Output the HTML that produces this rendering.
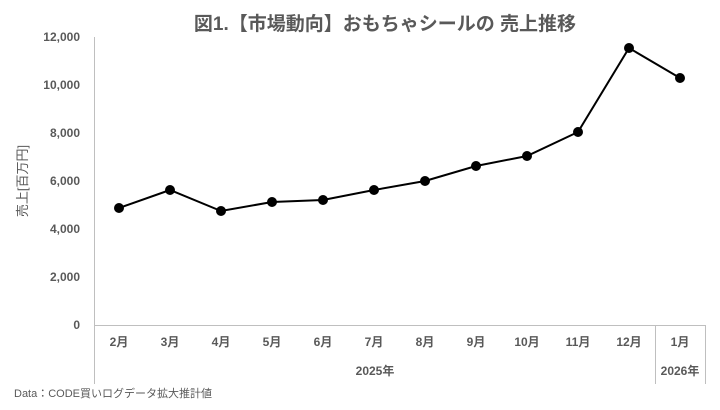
<!DOCTYPE html>
<html><head><meta charset="utf-8"><style>
body{margin:0;background:#fff;}
svg text{font-family:"Liberation Sans","Noto Sans CJK JP",sans-serif;}
</style></head><body>
<svg width="720" height="405" viewBox="0 0 720 405" xmlns="http://www.w3.org/2000/svg">
<rect width="720" height="405" fill="#fff"/>
<text x="385" y="30" text-anchor="middle" font-size="19" font-weight="bold" fill="#595959">図1.【市場動向】おもちゃシールの 売上推移</text>
<g font-size="12" font-weight="bold" fill="#595959" text-anchor="end">
<text x="80" y="41">12,000</text><text x="80" y="89">10,000</text><text x="80" y="137">8,000</text>
<text x="80" y="185">6,000</text><text x="80" y="233">4,000</text><text x="80" y="281">2,000</text><text x="80" y="329">0</text>
</g>
<text transform="translate(27,181) rotate(-90)" text-anchor="middle" font-size="13" fill="#595959">売上[百万円]</text>
<g stroke="#bfbfbf" stroke-width="1" fill="none">
<line x1="94.5" y1="37" x2="94.5" y2="384"/>
<line x1="94" y1="325.5" x2="706" y2="325.5"/>
<line x1="655.5" y1="325" x2="655.5" y2="384"/>
<line x1="705.5" y1="325" x2="705.5" y2="384"/>
</g>
<g font-size="12" font-weight="bold" fill="#595959" text-anchor="middle">
<text x="119" y="346">2月</text><text x="170" y="346">3月</text><text x="221" y="346">4月</text><text x="272" y="346">5月</text>
<text x="323" y="346">6月</text><text x="374" y="346">7月</text><text x="425" y="346">8月</text><text x="476" y="346">9月</text>
<text x="527" y="346">10月</text><text x="578" y="346">11月</text><text x="629" y="346">12月</text><text x="680" y="346">1月</text>
<text x="375" y="375">2025年</text><text x="680" y="375">2026年</text>
</g>
<polyline fill="none" stroke="#000" stroke-width="2" points="119,208 170,190 221,211 272,202 323,200 374,190 425,181 476,166 527,156 578,132 629,48 680,78"/>
<g fill="#000">
<circle cx="119" cy="208" r="5"/><circle cx="170" cy="190" r="5"/><circle cx="221" cy="211" r="5"/><circle cx="272" cy="202" r="5"/>
<circle cx="323" cy="200" r="5"/><circle cx="374" cy="190" r="5"/><circle cx="425" cy="181" r="5"/><circle cx="476" cy="166" r="5"/>
<circle cx="527" cy="156" r="5"/><circle cx="578" cy="132" r="5"/><circle cx="629" cy="48" r="5"/><circle cx="680" cy="78" r="5"/>
</g>
<text x="14" y="397" font-size="11" fill="#595959">Data：CODE買いログデータ拡大推計値</text>
</svg>
</body></html>
